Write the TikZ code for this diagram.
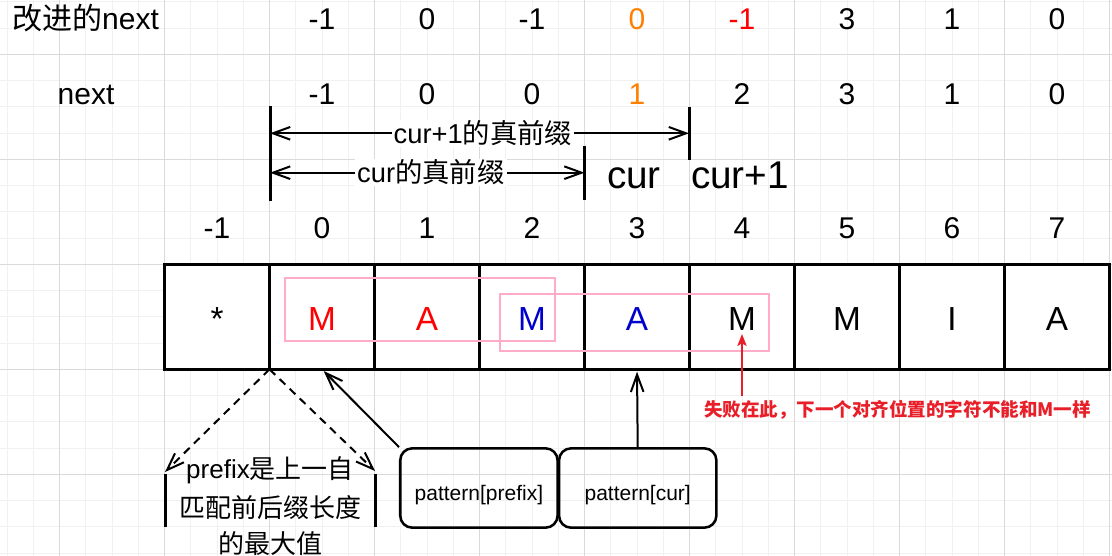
\documentclass[tikz,border=0pt]{standalone}
\usepackage{fontspec}
\setmainfont{Liberation Sans}
\newfontfamily\cjk{Noto Sans CJK SC}
\usetikzlibrary{arrows.meta}
\definecolor{gminor}{RGB}{241,241,241}
\definecolor{gmajor}{RGB}{218,218,218}
\definecolor{orng}{RGB}{255,128,0}
\definecolor{pinkc}{RGB}{255,172,200}
\definecolor{bluec}{RGB}{0,0,204}
\definecolor{failred}{RGB}{232,30,40}
\begin{document}
\begin{tikzpicture}[x=0.75pt,y=-0.75pt,
  gmin/.style={draw=gminor,line width=0.75pt},
  gmaj/.style={draw=gmajor,line width=0.75pt},
  rowtxt/.style={anchor=base,inner sep=0pt,font=\fontsize{22.5pt}{27pt}\selectfont},
  curtxt/.style={anchor=base,inner sep=0pt,font=\fontsize{29pt}{34pt}\selectfont},
  cell/.style={draw,fill=white,line width=2.25pt,minimum width=78.75pt,minimum height=78.75pt,
    inner sep=0pt,outer sep=0pt,font=\fontsize{25pt}{30pt}\selectfont,text height=20.8pt,text depth=0pt},
  pinkbox/.style={draw=pinkc,line width=1.5pt},
  tick/.style={line width=2.25pt},
  barb/.style={line width=1.5pt,{Straight Barb[length=13pt,width=9.5pt]}-{Straight Barb[length=13pt,width=9.5pt]}},
  onebarb/.style={line width=1.5pt,-{Straight Barb[length=13pt,width=9.5pt]}},
  dasharr/.style={onebarb,dash pattern=on 6pt off 4.5pt},
  lbl/.style={fill=white,inner sep=1.5pt,font=\fontsize{20.5pt}{24pt}\selectfont,text height=16.4pt,text depth=1pt},
  pfx/.style={anchor=base,inner sep=0pt,font=\fontsize{19.5pt}{24pt}\selectfont},
  patbox/.style={draw,line width=1.9pt,rounded corners=9pt,minimum width=118pt,minimum height=59.5pt,
    inner sep=0pt,font=\fontsize{15.75pt}{19pt}\selectfont,text height=18pt,text depth=0pt},
  failtxt/.style={inner sep=0pt,text=failred,font=\cjk\bfseries\fontsize{13.9pt}{17pt}\selectfont},
  redarr/.style={draw=failred,line width=1.2pt,-{Stealth[length=9pt,width=7pt,inset=2pt]}}
]
\useasboundingbox (0,0) rectangle (1112,556);
\fill[white] (0,0) rectangle (1112,556);
% grid
\foreach \i in {0,...,42} {\draw[gmin] ({7+26.25*\i},0) -- ({7+26.25*\i},556);}
\foreach \j in {0,...,21} {\draw[gmin] (0,{1.8+26.25*\j}) -- (1112,{1.8+26.25*\j});}
\foreach \i in {0,...,10} {\draw[gmaj] ({59.5+105*\i},0) -- ({59.5+105*\i},556);}
\foreach \j in {0,...,4} {\draw[gmaj] (0,{54.3+105*\j}) -- (1112,{54.3+105*\j});}

% row 1: improved next
\node[rowtxt] (r1lbl) at (85.5,29.3) {{\cjk 改进的}next};
\node[rowtxt] (r1v0) at (322,29.3) {-1};
\node[rowtxt] (r1v1) at (427,29.3) {0};
\node[rowtxt] (r1v2) at (532,29.3) {-1};
\node[rowtxt,text=orng] (r1v3) at (637,29.3) {0};
\node[rowtxt,text=red] (r1v4) at (742,29.3) {-1};
\node[rowtxt] (r1v5) at (847,29.3) {3};
\node[rowtxt] (r1v6) at (952,29.3) {1};
\node[rowtxt] (r1v7) at (1057,29.3) {0};

% row 2: next
\node[rowtxt] (r2lbl) at (86,104.3) {next};
\node[rowtxt] (r2v0) at (322,104.3) {-1};
\node[rowtxt] (r2v1) at (427,104.3) {0};
\node[rowtxt] (r2v2) at (532,104.3) {0};
\node[rowtxt,text=orng] (r2v3) at (637,104.3) {1};
\node[rowtxt] (r2v4) at (742,104.3) {2};
\node[rowtxt] (r2v5) at (847,104.3) {3};
\node[rowtxt] (r2v6) at (952,104.3) {1};
\node[rowtxt] (r2v7) at (1057,104.3) {0};

% brackets
\coordinate (L1t) at (270,106);
\coordinate (L1b) at (270,201);
\coordinate (R1t) at (689,107);
\coordinate (R1b) at (689,160);
\coordinate (R2t) at (584.5,146);
\coordinate (R2b) at (584.5,200);
\coordinate (A1l) at (270,133.3);
\coordinate (A1r) at (689,133.3);
\coordinate (A2l) at (270,172.7);
\coordinate (A2r) at (584.5,172.7);
\draw[tick] (L1t) -- (L1b);
\draw[tick] (R1t) -- (R1b);
\draw[tick] (R2t) -- (R2b);
\draw[barb] (A1l) -- node[lbl,xshift=2.6pt] (lab1) {cur+1{\cjk 的真前缀}} (A1r);
\draw[barb] (A2l) -- node[lbl,xshift=2.7pt] (lab2) {cur{\cjk 的真前缀}} (A2r);

\node[curtxt] (cur) at (634,188.3) {cur};
\node[curtxt] (curp) at (740,188.3) {cur+1};

% index row
\node[rowtxt] (i0) at (217,238.3) {-1};
\node[rowtxt] (i1) at (322,238.3) {0};
\node[rowtxt] (i2) at (427,238.3) {1};
\node[rowtxt] (i3) at (532,238.3) {2};
\node[rowtxt] (i4) at (637,238.3) {3};
\node[rowtxt] (i5) at (742,238.3) {4};
\node[rowtxt] (i6) at (847,238.3) {5};
\node[rowtxt] (i7) at (952,238.3) {6};
\node[rowtxt] (i8) at (1057,238.3) {7};

% cells
\node[cell] (c0) at (217,316.8) {*};
\node[cell,text=red] (c1) at (322,316.8) {M};
\node[cell,text=red] (c2) at (427,316.8) {A};
\node[cell,text=bluec] (c3) at (532,316.8) {M};
\node[cell,text=bluec] (c4) at (637,316.8) {A};
\node[cell] (c5) at (742,316.8) {M};
\node[cell] (c6) at (847,316.8) {M};
\node[cell] (c7) at (952,316.8) {I};
\node[cell] (c8) at (1057,316.8) {A};

% pink windows
\draw[pinkbox] (285,277.7) rectangle (555,341.3);
\draw[pinkbox] (500,293.7) rectangle (769.3,351.3);

% failure note
\node[failtxt] (fail) at (897.5,410) {失败在此，下一个对齐位置的字符不能和M一样};
\coordinate (failtip) at (742,334);
\coordinate (failfoot) at (742,396);
\draw[redarr] (failfoot) -- (failtip);

% prefix explanation
\coordinate (dlt) at (165,472);
\coordinate (drt) at (375,471);
\draw[dasharr] (c1.south west) -- (dlt);
\draw[dasharr] (c1.south west) -- (drt);
\coordinate (bl1) at (165,474);
\coordinate (bl2) at (165,527);
\coordinate (br1) at (375,474);
\coordinate (br2) at (375,527);
\draw[tick] (bl1) -- (bl2);
\draw[tick] (br1) -- (br2);
\node[pfx] (p1) at (270,478) {prefix{\cjk 是上一自}};
\node[pfx] (p2) at (270,517) {\cjk 匹配前后缀长度};
\node[pfx] (p3) at (270,553) {\cjk 的最大值};

% pattern boxes
\node[patbox] (pp) at (478.9,488) {pattern[prefix]};
\node[patbox] (pc) at (637.7,488) {pattern[cur]};
\draw[onebarb,shorten >=1.8pt] (pp.north west) -- (c1.south);
\draw[onebarb,shorten >=1.8pt] (pc.north) -- (c4.south);
\end{tikzpicture}
\end{document}
